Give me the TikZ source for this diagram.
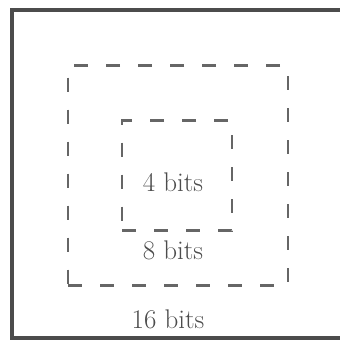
\documentclass[tikz,border=0pt]{standalone}
\usetikzlibrary{positioning}
\tikzset{
    outerbox/.style={
        draw=black!70,line width=3.5pt
    },
    dashbox/.style={
        draw=black!60,line width=2.8pt,dash pattern=on 14pt off 18pt,minimum width=#1,minimum height=#1,inner sep=0pt
    },
    bitlabel/.style={
        text=black!70,font=\fontsize{27}{30}\selectfont,inner sep=0pt
    }
}
\begin{document}
\begin{tikzpicture}[x=1pt,y=-1pt]
\useasboundingbox (0,0) rectangle (340,340);
\clip (0,0) rectangle (340,340);
\draw[outerbox] (12,10) rectangle (350,338);
\node[dashbox=220pt] (b8) at (178,175.5) {};
\node[dashbox=110pt] (b4) at (177,175.5) {};
\node[bitlabel] (l4) at (173,182) {4 bits};
\node[bitlabel,below=68pt of l4.base,anchor=base] (l8) {8 bits};
\node[bitlabel] (l16) at (168,319) {16 bits};
\end{tikzpicture}
\end{document}
